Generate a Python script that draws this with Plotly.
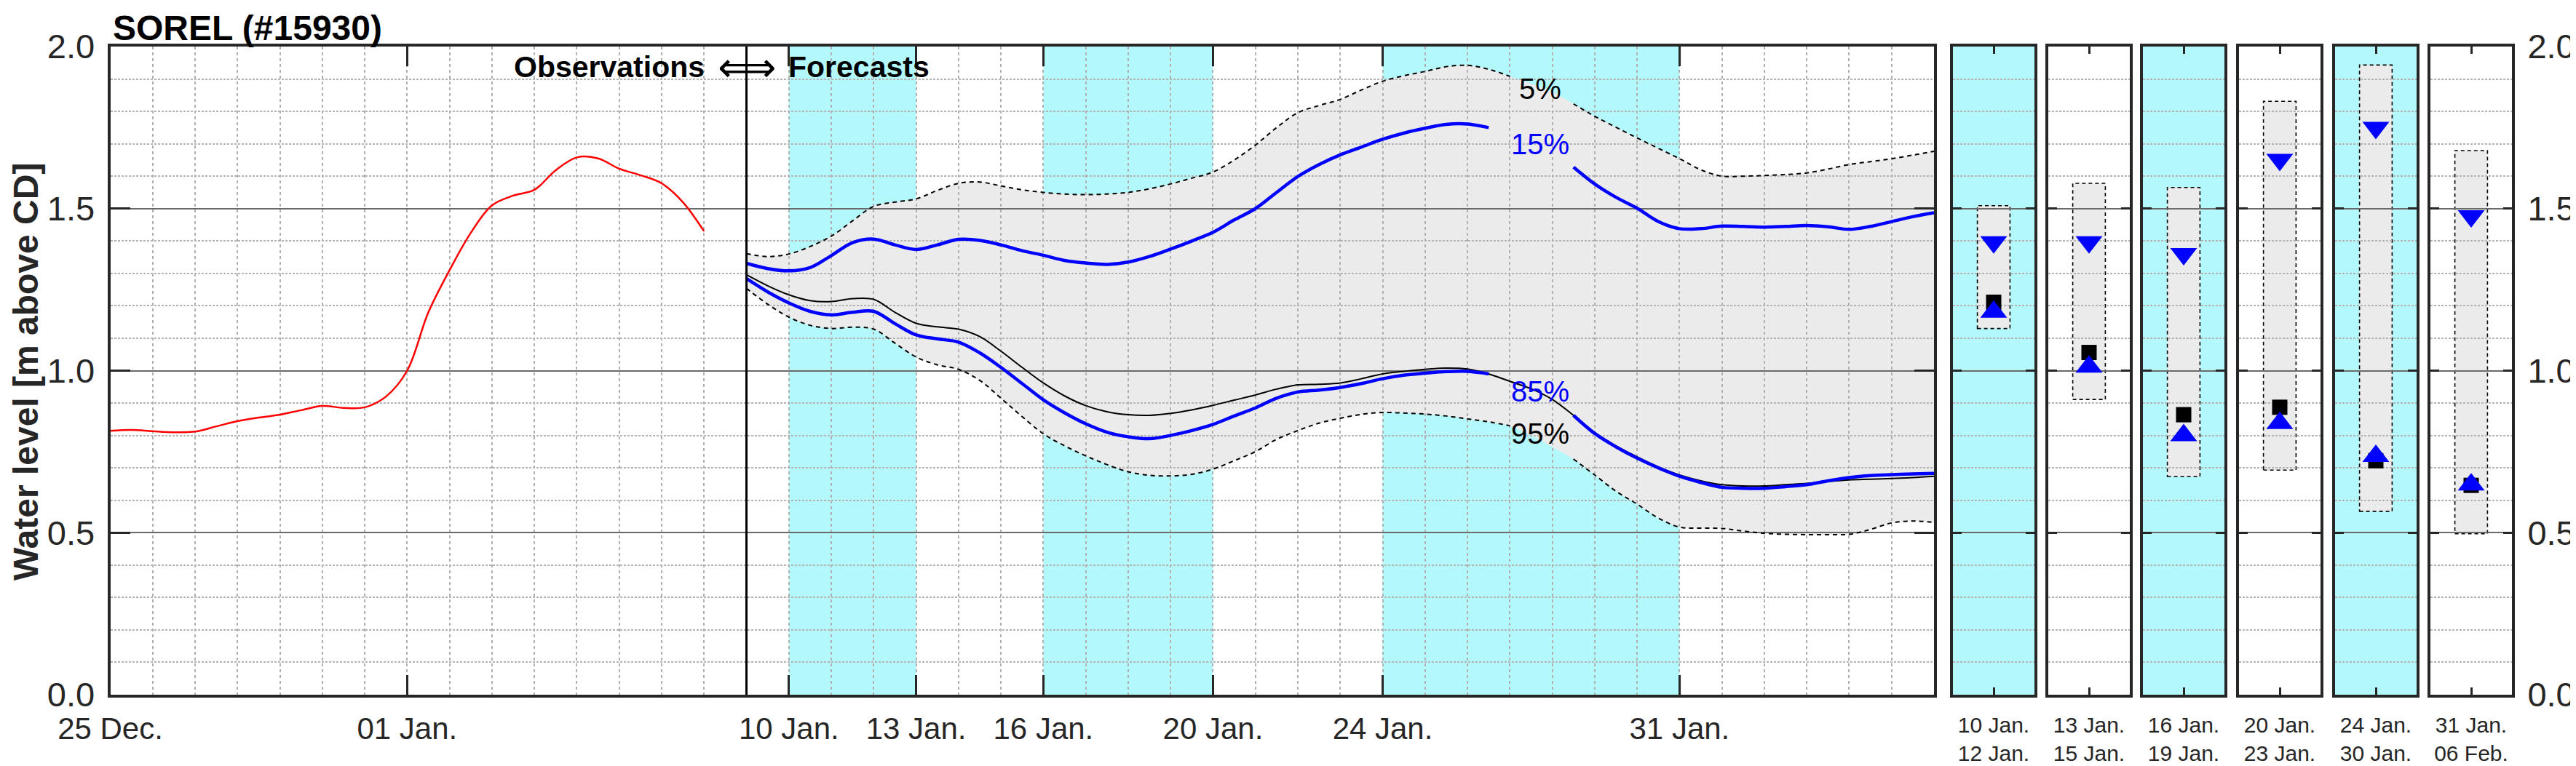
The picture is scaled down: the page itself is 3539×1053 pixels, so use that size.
"""SOREL (#15930) water level chart: observations, ensemble forecast band
and per-period forecast summaries, all drawn with plotly graph_objects.

Run with:
    python3 plot.py
"""

import pandas as pd
import plotly.graph_objects as go

# ---------------------------------------------------------------------------
# Data
# ---------------------------------------------------------------------------
# Observed water level [m above CD], every 12 h from 25 Dec. 00:00
OBS_START = "2019-12-25"
OBSERVED = [
    0.814, 0.817, 0.813, 0.810, 0.812, 0.828, 0.844, 0.855, 0.864, 0.878,
    0.891, 0.885, 0.887, 0.920, 1.000, 1.180, 1.310, 1.425, 1.510, 1.540,
    1.558, 1.618, 1.658, 1.655, 1.623, 1.603, 1.578, 1.520, 1.430,
]

# Forecast percentiles, every 12 h from 09 Jan. 00:00 (start of forecast)
FC_START = "2020-01-09"
P05 = [
    1.361, 1.352, 1.360, 1.383, 1.415, 1.462, 1.507, 1.520, 1.530, 1.556,
    1.578, 1.582, 1.570, 1.558, 1.550, 1.545, 1.543, 1.545, 1.550, 1.561,
    1.576, 1.594, 1.613, 1.650, 1.696, 1.750, 1.796, 1.818, 1.837, 1.866,
    1.893, 1.910, 1.923, 1.938, 1.942, 1.930, 1.908, 1.885, 1.860, 1.823,
    1.785, 1.751, 1.718, 1.686, 1.654, 1.620, 1.600, 1.600, 1.602, 1.605,
    1.610, 1.622, 1.636, 1.645, 1.654, 1.665, 1.677,
]
P15 = [
    1.331, 1.315, 1.308, 1.318, 1.355, 1.395, 1.406, 1.388, 1.374, 1.388,
    1.405, 1.402, 1.388, 1.370, 1.356, 1.340, 1.332, 1.328, 1.335, 1.352,
    1.375, 1.400, 1.427, 1.465, 1.500, 1.550, 1.599, 1.636, 1.666, 1.690,
    1.714, 1.733, 1.748, 1.760, 1.761, 1.750, 1.728, 1.700, 1.665, 1.628,
    1.576, 1.535, 1.501, 1.460, 1.438, 1.438, 1.446, 1.445, 1.443, 1.445,
    1.448, 1.444, 1.436, 1.445, 1.460, 1.475, 1.487,
]
P50 = [
    1.296, 1.262, 1.234, 1.216, 1.213, 1.222, 1.220, 1.180, 1.146, 1.135,
    1.128, 1.105, 1.060, 1.010, 0.962, 0.922, 0.892, 0.873, 0.864, 0.862,
    0.868, 0.879, 0.893, 0.909, 0.925, 0.943, 0.956, 0.958, 0.962, 0.975,
    0.990, 0.998, 1.004, 1.008, 1.005, 0.990, 0.967, 0.944, 0.911, 0.862,
    0.809, 0.768, 0.734, 0.703, 0.678, 0.660, 0.648, 0.644, 0.644, 0.648,
    0.652, 0.658, 0.663, 0.665, 0.667, 0.670, 0.674,
]
P85 = [
    1.284, 1.243, 1.209, 1.183, 1.172, 1.180, 1.183, 1.145, 1.110, 1.098,
    1.088, 1.055, 1.010, 0.960, 0.910, 0.870, 0.836, 0.810, 0.796, 0.790,
    0.800, 0.815, 0.834, 0.860, 0.885, 0.915, 0.934, 0.940, 0.948, 0.960,
    0.975, 0.986, 0.992, 0.997, 0.998, 0.990, 0.970, 0.945, 0.910, 0.862,
    0.806, 0.765, 0.730, 0.700, 0.674, 0.655, 0.640, 0.637, 0.637, 0.642,
    0.648, 0.660, 0.670, 0.676, 0.679, 0.681, 0.683,
]
P95 = [
    1.254, 1.205, 1.165, 1.140, 1.130, 1.134, 1.128, 1.085, 1.042, 1.018,
    1.004, 0.970, 0.915, 0.858, 0.805, 0.768, 0.737, 0.710, 0.688, 0.677,
    0.675, 0.680, 0.696, 0.722, 0.750, 0.788, 0.815, 0.838, 0.853, 0.865,
    0.871, 0.869, 0.866, 0.860, 0.851, 0.842, 0.830, 0.800, 0.765, 0.727,
    0.678, 0.628, 0.588, 0.545, 0.517, 0.514, 0.513, 0.505, 0.498, 0.495,
    0.494, 0.494, 0.495, 0.510, 0.530, 0.536, 0.532,
]

# Shaded forecast periods on the main panel
BAND_STARTS = ["2020-01-10", "2020-01-16", "2020-01-24"]
BAND_ENDS = ["2020-01-13", "2020-01-20", "2020-01-31"]

X_START, X_END = "2019-12-25", "2020-02-06"
TICK_DATES = ["2019-12-25", "2020-01-01", "2020-01-10", "2020-01-13",
              "2020-01-16", "2020-01-20", "2020-01-24", "2020-01-31"]
TICK_TEXT = ["25 Dec.", "01 Jan.", "10 Jan.", "13 Jan.",
             "16 Jan.", "20 Jan.", "24 Jan.", "31 Jan."]
Y_TICKS = [0.0, 0.5, 1.0, 1.5, 2.0]

# Per-period summaries (small panels on the right)
PERIOD_FROM = ["10 Jan.", "13 Jan.", "16 Jan.", "20 Jan.", "24 Jan.", "31 Jan."]
PERIOD_TO = ["12 Jan.", "15 Jan.", "19 Jan.", "23 Jan.", "30 Jan.", "06 Feb."]
PERIOD_SHADED = [True, False, True, False, True, False]
PERIOD_P05 = [1.509, 1.578, 1.565, 1.831, 1.943, 1.679]
PERIOD_P15 = [1.397, 1.397, 1.360, 1.651, 1.750, 1.477]
PERIOD_P50 = [1.211, 1.056, 0.864, 0.887, 0.722, 0.646]
PERIOD_P85 = [1.181, 1.012, 0.800, 0.838, 0.736, 0.648]
PERIOD_P95 = [1.130, 0.911, 0.673, 0.693, 0.566, 0.497]

# ---------------------------------------------------------------------------
# Style / geometry (pixels of the 3539 x 1053 page)
# ---------------------------------------------------------------------------
W, H = 3539, 1053
OFFSET = 8  # body margin that the html page leaves round the figure
FIG_W, FIG_H = W - OFFSET, H - OFFSET

FONT = "Liberation Sans, Arial, DejaVu Sans, sans-serif"
INK = "#262626"
CYAN = "#b3f8fa"
BAND_GREY = "#ebebeb"
MAJOR_GRID = "#6a6a6a"
MINOR_GRID = "#b4b4b4"
BLUE = "#0000ff"

MAIN_LEFT, MAIN_RIGHT = 151.5, 2657
PLOT_TOP, PLOT_BOTTOM = 64, 955
PANEL_LEFT = [2683, 2814, 2944, 3076, 3208, 3339]
PANEL_WIDTH = 112

# where each percentile label sits (and where its line is broken)
LABEL_DATE = "2020-01-27 17:00"
LABELS = [  # text, value, colour, series, gap (days from forecast start)
    ("5%", 1.869, "black", "p05", (18.5, 19.0)),
    ("15%", 1.699, BLUE, "p15", (18.0, 19.0)),
    ("85%", 0.935, BLUE, "p85", (18.0, 19.0)),
    ("95%", 0.806, "black", "p95", (18.5, 19.0)),
]


def fx(p):
    """Page x pixel -> paper fraction."""
    return (p - OFFSET) / FIG_W


def fy(p):
    """Page y pixel (from top) -> paper fraction."""
    return 1 - (p - OFFSET) / FIG_H


def ydom():
    return [fy(PLOT_BOTTOM), fy(PLOT_TOP)]


def gapped(values, gap):
    """Blank the points hidden behind a percentile label."""
    return [None if gap[0] <= 0.5 * i <= gap[1] else v for i, v in enumerate(values)]


def y_axis(anchor, ticklen, labels=False, side="left"):
    return dict(
        domain=ydom(), anchor=anchor, range=[0, 2], side=side, automargin=False,
        tickvals=Y_TICKS, tickformat=".1f", showticklabels=labels,
        tickfont=dict(size=47, color=INK), ticklabelstandoff=8,
        ticks="inside", ticklen=ticklen, tickwidth=3, tickcolor=INK,
        showline=True, linecolor=INK, linewidth=4, mirror="ticks",
        showgrid=True, gridcolor=MAJOR_GRID, gridwidth=2, zeroline=False,
        minor=dict(tick0=0, dtick=0.1, showgrid=True, gridcolor=MINOR_GRID,
                   griddash="3px,2px", gridwidth=2),
    )


fc_times = pd.date_range(FC_START, periods=len(P50), freq="12h")
obs_times = pd.date_range(OBS_START, periods=len(OBSERVED), freq="12h")
series = {"p05": P05, "p15": P15, "p85": P85, "p95": P95}

fig = go.Figure()

# =========================================================================
# Main panel, lower layer (xy): cyan periods + grey 5-95 % band
# =========================================================================
for x0, x1 in zip(BAND_STARTS, BAND_ENDS):
    fig.add_shape(type="rect", xref="x", yref="y", x0=x0, x1=x1, y0=0, y1=2,
                  fillcolor=CYAN, line_width=0, layer="below")

fig.add_trace(go.Scatter(x=fc_times, y=P95, mode="lines", line=dict(width=0, shape="spline"),
                         xaxis="x", yaxis="y", hoverinfo="skip"))
fig.add_trace(go.Scatter(x=fc_times, y=P05, mode="lines", line=dict(width=0, shape="spline"),
                         fill="tonexty", fillcolor=BAND_GREY,
                         xaxis="x", yaxis="y", hoverinfo="skip"))

# =========================================================================
# Main panel, upper layer (x2y2): grid, curves, labels
# =========================================================================
fig.add_trace(go.Scatter(x=obs_times, y=OBSERVED, mode="lines",
                         line=dict(color="#ff0000", width=2.5, shape="spline"),
                         xaxis="x2", yaxis="y2"))

gaps = {s: g for _, _, _, s, g in LABELS}
for key in ("p05", "p95"):
    fig.add_trace(go.Scatter(x=fc_times, y=gapped(series[key], gaps[key]), mode="lines",
                             line=dict(color="black", width=2, dash="6px,5px", shape="spline"),
                             xaxis="x2", yaxis="y2"))
fig.add_trace(go.Scatter(x=fc_times, y=P50, mode="lines",
                         line=dict(color="black", width=2, shape="spline"),
                         xaxis="x2", yaxis="y2"))
for key in ("p15", "p85"):
    fig.add_trace(go.Scatter(x=fc_times, y=gapped(series[key], gaps[key]), mode="lines",
                             line=dict(color=BLUE, width=4.5, shape="spline"),
                             xaxis="x2", yaxis="y2"))

# observations / forecast divider
fig.add_shape(type="line", xref="x2", yref="y2", x0=FC_START, x1=FC_START, y0=0, y1=2,
              line=dict(color="black", width=3), layer="above")

for text, value, colour, _, _ in LABELS:
    fig.add_annotation(x=LABEL_DATE, y=value, xref="x2", yref="y2", text=text,
                       showarrow=False, font=dict(size=40, color=colour))

head_font = dict(size=41, color="black")
fig.add_annotation(x=FC_START, y=1.937, xref="x2", yref="y2", text="<b>Observations</b>",
                   xanchor="right", xshift=-56, showarrow=False, font=head_font)
fig.add_annotation(x=FC_START, y=1.937, xref="x2", yref="y2", text="\u27fa",
                   xanchor="center", showarrow=False, font=dict(size=56, color="black"))
fig.add_annotation(x=FC_START, y=1.937, xref="x2", yref="y2", text="<b>Forecasts</b>",
                   xanchor="left", xshift=55, showarrow=False, font=head_font)

# =========================================================================
# Small panels (x3y3 ... x8y8): one per forecast period
# =========================================================================
n_panels = len(PERIOD_FROM)
for i in range(n_panels):
    n = i + 3
    xa, ya = f"x{n}", f"y{n}"
    if PERIOD_SHADED[i]:
        fig.add_shape(type="rect", xref=xa, yref=ya, x0=0, x1=1, y0=0, y1=2,
                      fillcolor=CYAN, line_width=0, layer="below")
    fig.add_shape(type="rect", xref=xa, yref=ya, x0=0.3, x1=0.7,
                  y0=PERIOD_P95[i], y1=PERIOD_P05[i], fillcolor=BAND_GREY,
                  line=dict(color="black", width=1.6, dash="5px,4px"), layer="below")
    fig.add_trace(go.Scatter(x=[0.5], y=[PERIOD_P50[i]], mode="markers",
                             marker=dict(symbol="square", size=21, color="black"),
                             xaxis=xa, yaxis=ya))
    fig.add_trace(go.Scatter(x=[0.5], y=[PERIOD_P15[i]], mode="markers",
                             marker=dict(symbol="triangle-down", size=32, color=BLUE),
                             xaxis=xa, yaxis=ya))
    fig.add_trace(go.Scatter(x=[0.5], y=[PERIOD_P85[i]], mode="markers",
                             marker=dict(symbol="triangle-up", size=32, color=BLUE),
                             xaxis=xa, yaxis=ya))

# ---------------------------------------------------------------------------
# Axes
# ---------------------------------------------------------------------------
main_x = dict(domain=[fx(MAIN_LEFT), fx(MAIN_RIGHT)], type="date",
              range=[X_START, X_END], automargin=False)
layout_axes = {
    "xaxis": dict(main_x, anchor="y", visible=False),
    "yaxis": dict(domain=ydom(), anchor="x", range=[0, 2], visible=False, automargin=False),
    "xaxis2": dict(
        main_x, anchor="y2", tickvals=TICK_DATES, ticktext=TICK_TEXT,
        tickfont=dict(size=42, color=INK), ticklabelstandoff=7,
        ticks="inside", ticklen=27, tickwidth=3, tickcolor=INK,
        showline=True, linecolor=INK, linewidth=4, mirror="ticks",
        showgrid=True, gridcolor="#b0b0b0", gridwidth=2, griddash="4px,4px",
        minor=dict(tick0=X_START, dtick=86400000, showgrid=True, gridcolor="#b0b0b0",
                   gridwidth=2, griddash="4px,4px"),
    ),
    "yaxis2": y_axis("x2", 27, labels=True),
}
for i in range(n_panels):
    n = i + 3
    layout_axes[f"xaxis{n}"] = dict(
        domain=[fx(PANEL_LEFT[i]), fx(PANEL_LEFT[i] + PANEL_WIDTH)], anchor=f"y{n}",
        range=[0, 1], tickvals=[0.5], ticktext=[f"{PERIOD_FROM[i]}<br>{PERIOD_TO[i]}"],
        tickfont=dict(size=30, color=INK), ticklabelstandoff=12, automargin=False,
        ticks="inside", ticklen=10, tickwidth=3, tickcolor=INK,
        showline=True, linecolor=INK, linewidth=4, mirror="ticks",
        showgrid=False, zeroline=False,
    )
    last = i == n_panels - 1
    layout_axes[f"yaxis{n}"] = y_axis(f"x{n}", 12, labels=last, side="right" if last else "left")

fig.update_layout(**layout_axes)

# titles as paper annotations (kept just inside the figure edges)
fig.add_annotation(x=fx(153), y=fy(38), xref="paper", yref="paper",
                   text="<b>SOREL (#15930)</b>", xanchor="left", yanchor="middle",
                   showarrow=False, font=dict(size=48, color="black"))
fig.add_annotation(x=fx(35), y=fy(511), xref="paper", yref="paper",
                   text="<b>Water level [m above CD]</b>", textangle=-90,
                   xanchor="center", yanchor="middle",
                   showarrow=False, font=dict(size=48, color=INK))

fig.update_layout(
    width=FIG_W, height=FIG_H, autosize=False,
    margin=dict(l=0, r=0, t=0, b=0),
    paper_bgcolor="white",
    plot_bgcolor="rgba(0,0,0,0)",  # the grid layer sits over the grey band
    font=dict(family=FONT, color=INK),
    showlegend=False,
)

fig.write_html("out.html")
